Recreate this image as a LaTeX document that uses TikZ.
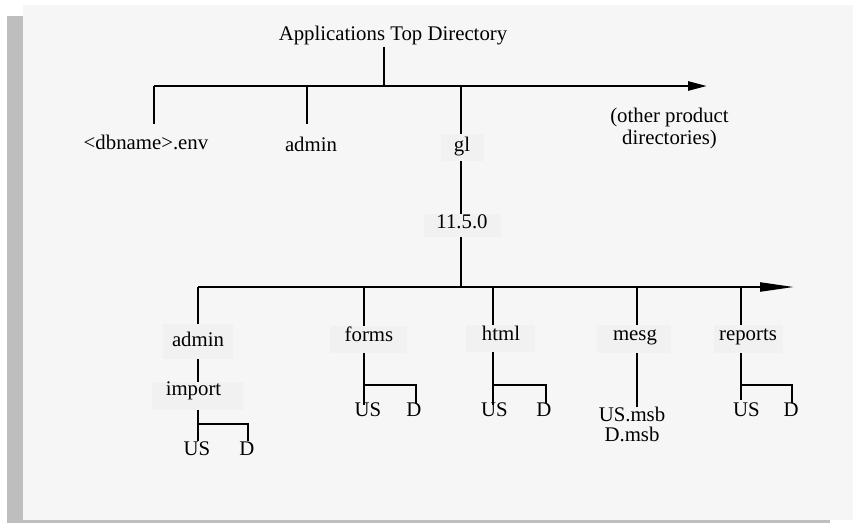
\documentclass[tikz,border=0pt]{standalone}
\usepackage{fontspec}
\setmainfont{Liberation Serif}
\usetikzlibrary{arrows.meta}
\definecolor{panel}{HTML}{F6F6F6}
\definecolor{rim}{HTML}{BEBEBE}
\definecolor{boxgray}{HTML}{F1F1F1}
\definecolor{ink}{HTML}{000000}
\begin{document}
\begin{tikzpicture}[x=1pt,y=-1pt,
  lbl/.style={inner sep=0pt, anchor=base, text=ink,
              font=\fontsize{20.8}{24}\selectfont},
  dirbox/.style={fill=boxgray, draw=none, inner sep=0pt},
  heavy/.style={draw=ink, line width=2.6pt},
  mid/.style={draw=ink, line width=2.1pt, line join=miter},
  thin/.style={draw=ink, line width=1.1pt},
]
\useasboundingbox (0,0) rectangle (853,523);
% page, panel and its shaded rim
\fill[white] (0,0) rectangle (853,523);
\fill[panel] (23,5) rectangle (853,520);
\fill[rim] (7,16) rectangle (23,523);
\fill[rim] (7,520) rectangle (830,523);

% ---------------- top level ----------------
\node[lbl] (root) at (393,40) {Applications Top Directory};
\coordinate (rootj) at (384,86);
\coordinate (topL)  at (154,86);
\coordinate (topR)  at (707,86);
\coordinate (admj)  at (307,86);
\coordinate (glj)   at (461,86);

\draw[heavy, shorten <=2.5pt] (root.south -| rootj) -- (rootj);
\draw[heavy, -{Triangle[length=19pt,width=9pt]}] (topL) -- (topR);

\node[lbl] (dbenv) at (146,149.5) {<dbname>.env};
\node[lbl] (admin) at (311,151.5) {admin};
\node[dirbox, minimum width=43pt, minimum height=27pt] (glbox) at (462.5,147.5) {};
\node[lbl] (gl) at (462,151) {gl};
\node[lbl] (other1) at (669.5,122.5) {(other product};
\node[lbl] (other2) at (669.5,144) {directories)};
\node[dirbox, minimum width=77pt, minimum height=23pt] (verbox) at (462,225.5) {};
\node[lbl] (ver) at (462,228.5) {11.5.0};

\draw[heavy, shorten >=10.4pt] (topL) -- (topL |- dbenv.north);
\draw[heavy, shorten >=12.4pt] (admj) -- (admj |- admin.north);
\draw[mid] (glj) -- (glj |- glbox.north);
\draw[mid] (glj |- glbox.south) -- (glj |- verbox.north);
\coordinate (verj) at (461,287);
\draw[mid] (glj |- verbox.south) -- (verj);

% ---------------- product level ----------------
\coordinate (lowL) at (198,287);
\coordinate (lowR) at (794,287);
\draw[mid, -{Triangle[length=34pt,width=9pt]}] (lowL) -- (lowR);

% admin / import
\node[dirbox, minimum width=70pt, minimum height=35pt] (adm2box) at (198,341.5) {};
\node[lbl] (adm2) at (198,346) {admin};
\node[dirbox, minimum width=91pt, minimum height=28pt] (impbox) at (197.5,396) {};
\node[lbl] (imp) at (193.5,395) {import};
\node[lbl] (impus) at (197,455) {US};
\node[lbl] (impd) at (247,455) {D};
\coordinate (impj)  at (198,424);
\coordinate (impdj) at (248,424);
\draw[thin] (lowL) -- (lowL |- adm2box.north);
\draw[thin] (lowL |- adm2box.south) -- (lowL |- impbox.north);
\draw[thin] (lowL |- impbox.south) -- (lowL |- impus.north);
\draw[mid] (impj) -- (impdj) -- (impdj |- impd.north);

% forms
\coordinate (formsj) at (364,287);
\node[dirbox, minimum width=77pt, minimum height=27pt] (formsbox) at (368.5,339.5) {};
\node[lbl] (forms) at (369,341) {forms};
\node[lbl] (formsus) at (368,416.5) {US};
\node[lbl] (formsd) at (414,416.5) {D};
\coordinate (formsb)  at (364,385);
\coordinate (formsbd) at (416,385);
\draw[mid] (formsj) -- (formsj |- formsbox.north);
\draw[mid, shorten >=-2pt] (formsj |- formsbox.south) -- (formsj |- formsus.north);
\draw[mid] (formsb) -- (formsbd) -- (formsbd |- formsd.north);

% html
\coordinate (htmlj) at (493,287);
\node[dirbox, minimum width=69pt, minimum height=27pt] (htmlbox) at (500.5,338.5) {};
\node[lbl] (html) at (501,340) {html};
\node[lbl] (htmlus) at (494.5,416.5) {US};
\node[lbl] (htmld) at (544,416.5) {D};
\coordinate (htmlb)  at (493,385);
\coordinate (htmlbd) at (546,385);
\draw[thin] (htmlj) -- (htmlj |- htmlbox.north);
\draw[thin, shorten >=-2pt] (htmlj |- htmlbox.south) -- (htmlj |- htmlus.north);
\draw[mid] (htmlb) -- (htmlbd) -- (htmlbd |- htmld.north);

% mesg
\coordinate (mesgj) at (637,287);
\node[dirbox, minimum width=74pt, minimum height=28pt] (mesgbox) at (634,339) {};
\node[lbl] (mesg) at (635,340) {mesg};
\node[lbl] (mesgus) at (632,421.5) {US.msb};
\node[lbl] (mesgd) at (632,441.5) {D.msb};
\draw[mid] (mesgj) -- (mesgj |- mesgbox.north);
\draw[mid] (mesgj |- mesgbox.south) -- (mesgj |- mesgus.north);

% reports
\coordinate (repj) at (741,287);
\node[dirbox, minimum width=69pt, minimum height=28pt] (repbox) at (748.5,339) {};
\node[lbl] (rep) at (748,340) {reports};
\node[lbl] (repus) at (746.5,416.5) {US};
\node[lbl] (repd) at (791,416.5) {D};
\coordinate (repb)  at (741,385);
\coordinate (repbd) at (792,385);
\draw[mid] (repj) -- (repj |- repbox.north);
\draw[mid, shorten >=3pt] (repj |- repbox.south) -- (repj |- repus.north);
\draw[mid] (repb) -- (repbd) -- (repbd |- repd.north);
\end{tikzpicture}
\end{document}
